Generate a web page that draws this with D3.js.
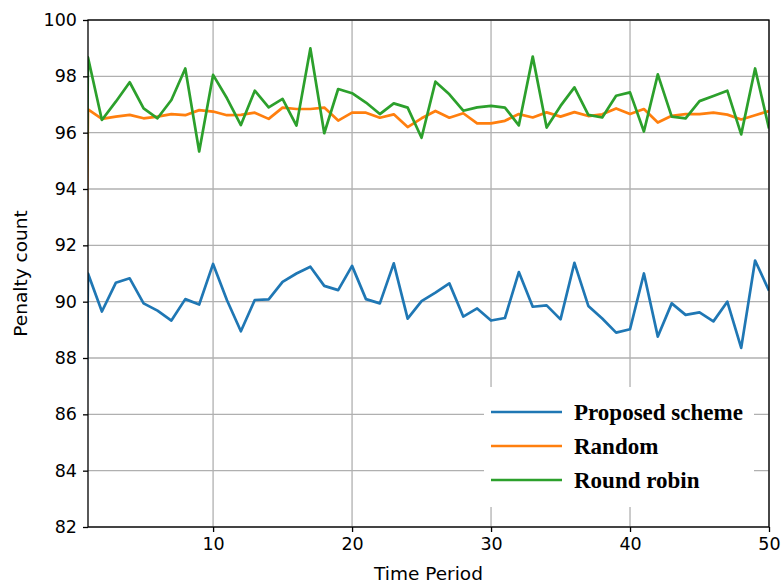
<!DOCTYPE html>
<html>
<head>
<meta charset="utf-8">
<script src="https://cdn.jsdelivr.net/npm/d3@7"></script>
<style>
  body { margin: 0; background: #fff; }
  svg { display: block; }
</style>
</head>
<body>
<svg id="chart" width="781" height="583"></svg>
<script>
/* time periods (0 lies left of the visible axis, as in the original plot) */
const periods = d3.range(0, 51);

/* series values */
const proposed = [46.5,
  91.0, 89.65, 90.67, 90.83, 89.94, 89.68, 89.33, 90.09, 89.9, 91.34,
  90.05, 88.95, 90.06, 90.08, 90.7, 91.0, 91.24, 90.56, 90.41, 91.27,
  90.09, 89.94, 91.36, 89.4, 90.02, 90.32, 90.65, 89.47, 89.76, 89.33,
  89.42, 91.05, 89.82, 89.87, 89.37, 91.38, 89.85, 89.4, 88.9, 89.02,
  91.0, 88.76, 89.94, 89.53, 89.62, 89.3, 90.0, 88.36, 91.46, 90.39];

const random = [52,
  96.83, 96.49, 96.57, 96.63, 96.51, 96.57, 96.66, 96.62, 96.8, 96.75,
  96.62, 96.63, 96.71, 96.49, 96.89, 96.84, 96.84, 96.89, 96.43, 96.71,
  96.71, 96.53, 96.65, 96.2, 96.51, 96.77, 96.53, 96.69, 96.33, 96.33,
  96.42, 96.66, 96.54, 96.72, 96.57, 96.73, 96.59, 96.65, 96.86, 96.66,
  96.84, 96.36, 96.6, 96.66, 96.66, 96.71, 96.64, 96.47, 96.62, 96.77];

const roundRobin = [54,
  98.67, 96.45, 97.1, 97.79, 96.86, 96.51, 97.16, 98.28, 95.33, 98.05,
  97.22, 96.27, 97.49, 96.9, 97.2, 96.25, 98.99, 95.98, 97.55, 97.4,
  97.07, 96.66, 97.04, 96.89, 95.82, 97.81, 97.36, 96.78, 96.9, 96.95,
  96.89, 96.26, 98.7, 96.18, 96.95, 97.61, 96.63, 96.54, 97.31, 97.43,
  96.04, 98.07, 96.57, 96.51, 97.12, 97.3, 97.49, 95.94, 98.28, 96.15];

const seriesNames = ['Proposed scheme', 'Random', 'Round robin'];
const seriesColors = ['#1f77b4', '#ff7f0e', '#2ca02c'];
const seriesValues = [proposed, random, roundRobin];

const xTicks = [10, 20, 30, 40, 50];
const yTicks = [82, 84, 86, 88, 90, 92, 94, 96, 98, 100];

/* layout */
const margin = { left: 88, right: 12, top: 20, bottom: 56 };
const width = 781, height = 583;

const svg = d3.select('#chart');

const xScale = d3.scaleLinear().domain([1, 50]).range([margin.left, width - margin.right]);
const yScale = d3.scaleLinear().domain([82, 100]).range([height - margin.bottom, margin.top]);

/* clip so the lines stop at the axes */
svg.append('defs').append('clipPath').attr('id', 'plot-clip')
  .append('rect')
  .attr('x', margin.left).attr('y', margin.top)
  .attr('width', xScale(50) - xScale(1))
  .attr('height', yScale(82) - yScale(100));

/* grid */
const grid = svg.append('g').attr('stroke', '#b0b0b0').attr('stroke-width', 1.3);
grid.selectAll('line.v').data(xTicks).join('line')
  .attr('x1', d => xScale(d)).attr('x2', d => xScale(d))
  .attr('y1', yScale(82)).attr('y2', yScale(100));
grid.selectAll('line.h').data(yTicks).join('line')
  .attr('x1', xScale(1)).attr('x2', xScale(50))
  .attr('y1', d => yScale(d)).attr('y2', d => yScale(d));

/* lines */
const line = d3.line()
  .x((d, i) => xScale(periods[i]))
  .y(d => yScale(d));

svg.append('g').attr('clip-path', 'url(#plot-clip)')
  .selectAll('path').data(seriesValues).join('path')
  .attr('d', d => line(d))
  .attr('fill', 'none')
  .attr('stroke', (d, i) => seriesColors[i])
  .attr('stroke-width', 2.7)
  .attr('stroke-linejoin', 'round');

/* axes */
const xAxis = d3.axisBottom(xScale).tickValues(xTicks).tickSize(5).tickPadding(6);
const yAxis = d3.axisLeft(yScale).tickValues(yTicks).tickSize(5).tickPadding(6);

function styleAxis(g) {
  g.select('.domain').remove();
  g.selectAll('line').attr('stroke', '#000').attr('stroke-width', 1.3);
  g.selectAll('text')
    .attr('fill', '#000')
    .style('font-family', 'DejaVu Sans')
    .style('font-size', '17.5px');
}

svg.append('g')
  .attr('transform', `translate(0,${yScale(82)})`)
  .call(xAxis).call(styleAxis);

svg.append('g')
  .attr('transform', `translate(${xScale(1)},0)`)
  .call(yAxis).call(styleAxis);

/* frame */
svg.append('rect')
  .attr('x', xScale(1)).attr('y', yScale(100))
  .attr('width', xScale(50) - xScale(1))
  .attr('height', yScale(82) - yScale(100))
  .attr('fill', 'none').attr('stroke', '#000').attr('stroke-width', 1.3);

/* axis titles */
svg.append('text')
  .attr('x', (xScale(1) + xScale(50)) / 2).attr('y', 580)
  .attr('text-anchor', 'middle')
  .style('font-family', 'DejaVu Sans').style('font-size', '18.5px')
  .text('Time Period');

svg.append('text')
  .attr('transform', `translate(27,${(yScale(82) + yScale(100)) / 2}) rotate(-90)`)
  .attr('text-anchor', 'middle')
  .style('font-family', 'DejaVu Sans').style('font-size', '18.5px')
  .text('Penalty count');

/* legend */
const legend = svg.append('g').attr('transform', 'translate(484,387)');
legend.append('rect')
  .attr('width', 270).attr('height', 120)
  .attr('fill', '#fff');

const rows = legend.selectAll('g.row').data(seriesNames).join('g')
  .attr('transform', (d, i) => `translate(0,${25 + i * 34})`);
rows.append('line')
  .attr('x1', 7).attr('x2', 78).attr('y1', 0).attr('y2', 0)
  .attr('stroke', (d, i) => seriesColors[i])
  .attr('stroke-width', 2.4);
rows.append('text')
  .attr('x', 90).attr('y', 8)
  .style('font-family', '"Liberation Serif", "Times New Roman", serif')
  .style('font-weight', 'bold')
  .style('font-size', '23px')
  .text(d => d);
</script>
</body>
</html>
